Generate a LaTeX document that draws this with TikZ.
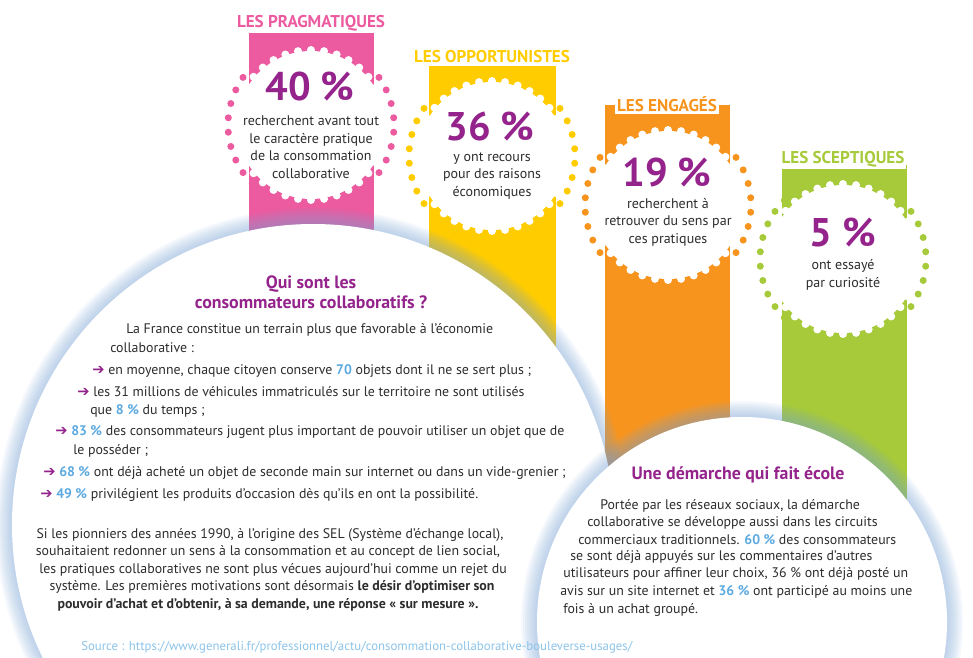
\documentclass[tikz,border=0pt]{standalone}
\usepackage{fontspec}
\setmainfont{PT Sans}
\newfontfamily\symfont{DejaVu Sans}
\definecolor{pinkc}{RGB}{236,90,160}
\definecolor{yellowc}{RGB}{255,204,0}
\definecolor{orangec}{RGB}{247,148,30}
\definecolor{greenc}{RGB}{166,202,58}
\definecolor{purp}{RGB}{148,36,140}
\definecolor{numblue}{RGB}{92,170,224}
\definecolor{srcblue}{RGB}{140,196,234}
\definecolor{txt}{RGB}{45,45,45}
\definecolor{glowc}{RGB}{120,165,215}
\newcommand\numb[1]{{\color{numblue}\bfseries #1}}
\newcommand\arr{{\color{purp}\symfont\bfseries\fontsize{11}{11}\selectfont ➔}\ }
\tikzset{
  tag/.style={fill=white, inner sep=1.5pt, font=\bfseries\fontsize{12.8}{13}\selectfont},
  pct/.style={text=purp, font=\bfseries\fontsize{30}{30}\selectfont},
  desc/.style={text=txt, align=center, font=\fontsize{10.5}{13.1}\selectfont},
  head/.style={text=purp, align=center, font=\bfseries\fontsize{13.4}{15}\selectfont},
  body/.style={text=txt, anchor=west, inner sep=0pt, font=\fontsize{10.4}{11}\selectfont},
  mid/.style={text=txt, inner sep=0pt, font=\fontsize{10.4}{11}\selectfont}
}
\begin{document}
\begin{tikzpicture}[x=0.75pt, y=-0.75pt]
  \path[use as bounding box] (0,0) rectangle (973,657);
  \clip (0,0) rectangle (973,657);
  \fill[white] (0,0) rectangle (973,657);

  \foreach \xa/\xb/\yt/\col in {249/374/32/pinkc, 429/556/66/yellowc, 605/730/105/orangec, 782/907/165/greenc}
    \fill[\col] (\xa,\yt) rectangle (\xb,620);

  \foreach \cx/\cy/\col in {311/125/pinkc, 492/156/yellowc, 668/205/orangec, 843/259/greenc} {
    \fill[white] (\cx,\cy) circle (74);
    \foreach \a in {0,10,...,350} {
      \fill[white] (\cx,\cy) ++(\a:75) circle (4);
      \fill[\col] (\cx,\cy) ++(\a+5:83) circle (3.5);
    }
  }

  \node[tag, text=pinkc] (prag) at (311,23) {LES PRAGMATIQUES};
  \node[tag, text=yellowc] (oppo) at (492,57) {LES OPPORTUNISTES};
  \node[tag, text=orangec] (enga) at (667,104) {LES ENGAGÉS};
  \node[tag, text=greenc] (scep) at (843,159) {LES SCEPTIQUES};

  \node[pct] (pct40) at (310,86) {40 \%};
  \node[desc] (txt40) at (311,147) {recherchent avant tout\\le caractère pratique\\de la consommation\\collaborative};
  \node[pct] (pct36) at (490,126) {36 \%};
  \node[desc] (txt36) at (492,176) {y ont recours\\pour des raisons\\économiques};
  \node[pct] (pct19) at (667,172) {19 \%};
  \node[desc] (txt19) at (668,222) {recherchent à\\retrouver du sens par\\ces pratiques};
  \node[pct] (pct5) at (843,232) {5 \%};
  \node[desc] (txt5) at (843,275) {ont essayé\\par curiosité};

  \coordinate (lc) at (313,525);
  \coordinate (rc) at (742,622);
  \foreach \g in {2,4,...,16} \fill[glowc, opacity=0.07] (lc) circle[radius=301+\g];
  \fill[white] (lc) circle[radius=301];
  \foreach \g in {2,4,...,16} \fill[glowc, opacity=0.07] (rc) circle[radius=205+\g];
  \fill[white] (rc) circle[radius=205];

  \node[head] (qui) at (311,292) {Qui sont les\\consommateurs collaboratifs ?};
  \node[body] (l1) at (126,330) {La France constitue un terrain plus que favorable à l’économie};
  \node[body] (l2) at (110,348) {collaborative :};
  \node[body] (l3) at (92,371) {\arr en moyenne, chaque citoyen conserve \numb{70} objets dont il ne se sert plus ;};
  \node[body] (l4) at (77,392) {\arr les 31 millions de véhicules immatriculés sur le territoire ne sont utilisés};
  \node[body] (l5) at (90,411) {que \numb{8 \%} du temps ;};
  \node[body] (l6) at (55,432) {\arr \numb{83 \%} des consommateurs jugent plus important de pouvoir utiliser un objet que de};
  \node[body] (l7) at (73,451) {le posséder ;};
  \node[body] (l8) at (43,473) {\arr \numb{68 \%} ont déjà acheté un objet de seconde main sur internet ou dans un vide-grenier ;};
  \node[body] (l9) at (40,495) {\arr \numb{49 \%} privilégient les produits d’occasion dès qu’ils en ont la possibilité.};

  \node[mid] (p1) at (270,535) {Si les pionniers des années 1990, à l’origine des SEL (Système d’échange local),};
  \node[mid] (p2) at (268,552) {souhaitaient redonner un sens à la consommation et au concept de lien social,};
  \node[mid] (p3) at (273,570) {les pratiques collaboratives ne sont plus vécues aujourd’hui comme un rejet du};
  \node[mid] (p4) at (272,587) {système. Les premières motivations sont désormais \textbf{le désir d’optimiser son}};
  \node[mid] (p5) at (268,605) {\textbf{pouvoir d’achat et d’obtenir, à sa demande, une réponse « sur mesure ».}};

  \node[head] (ecole) at (738,475) {Une démarche qui fait école};
  \node[body] (r1) at (600,506) {Portée par les réseaux sociaux, la démarche};
  \node[body] (r2) at (587,523) {collaborative se développe aussi dans les circuits};
  \node[body] (r3) at (578,540) {commerciaux traditionnels. \numb{60 \%} des consommateurs};
  \node[body] (r4) at (570,557) {se sont déjà appuyés sur les commentaires d’autres};
  \node[body] (r5) at (563,574) {utilisateurs pour affiner leur choix, 36 \% ont déjà posté un};
  \node[body] (r6) at (560,592) {avis sur un site internet et \numb{36 \%} ont participé au moins une};
  \node[body] (r7) at (563,610) {fois à un achat groupé.};

  \node[body, text=srcblue, font=\fontsize{9.6}{10}\selectfont] (src) at (81,647) {Source : https://www.generali.fr/professionnel/actu/consommation-collaborative-bouleverse-usages/};
\end{tikzpicture}
\end{document}
